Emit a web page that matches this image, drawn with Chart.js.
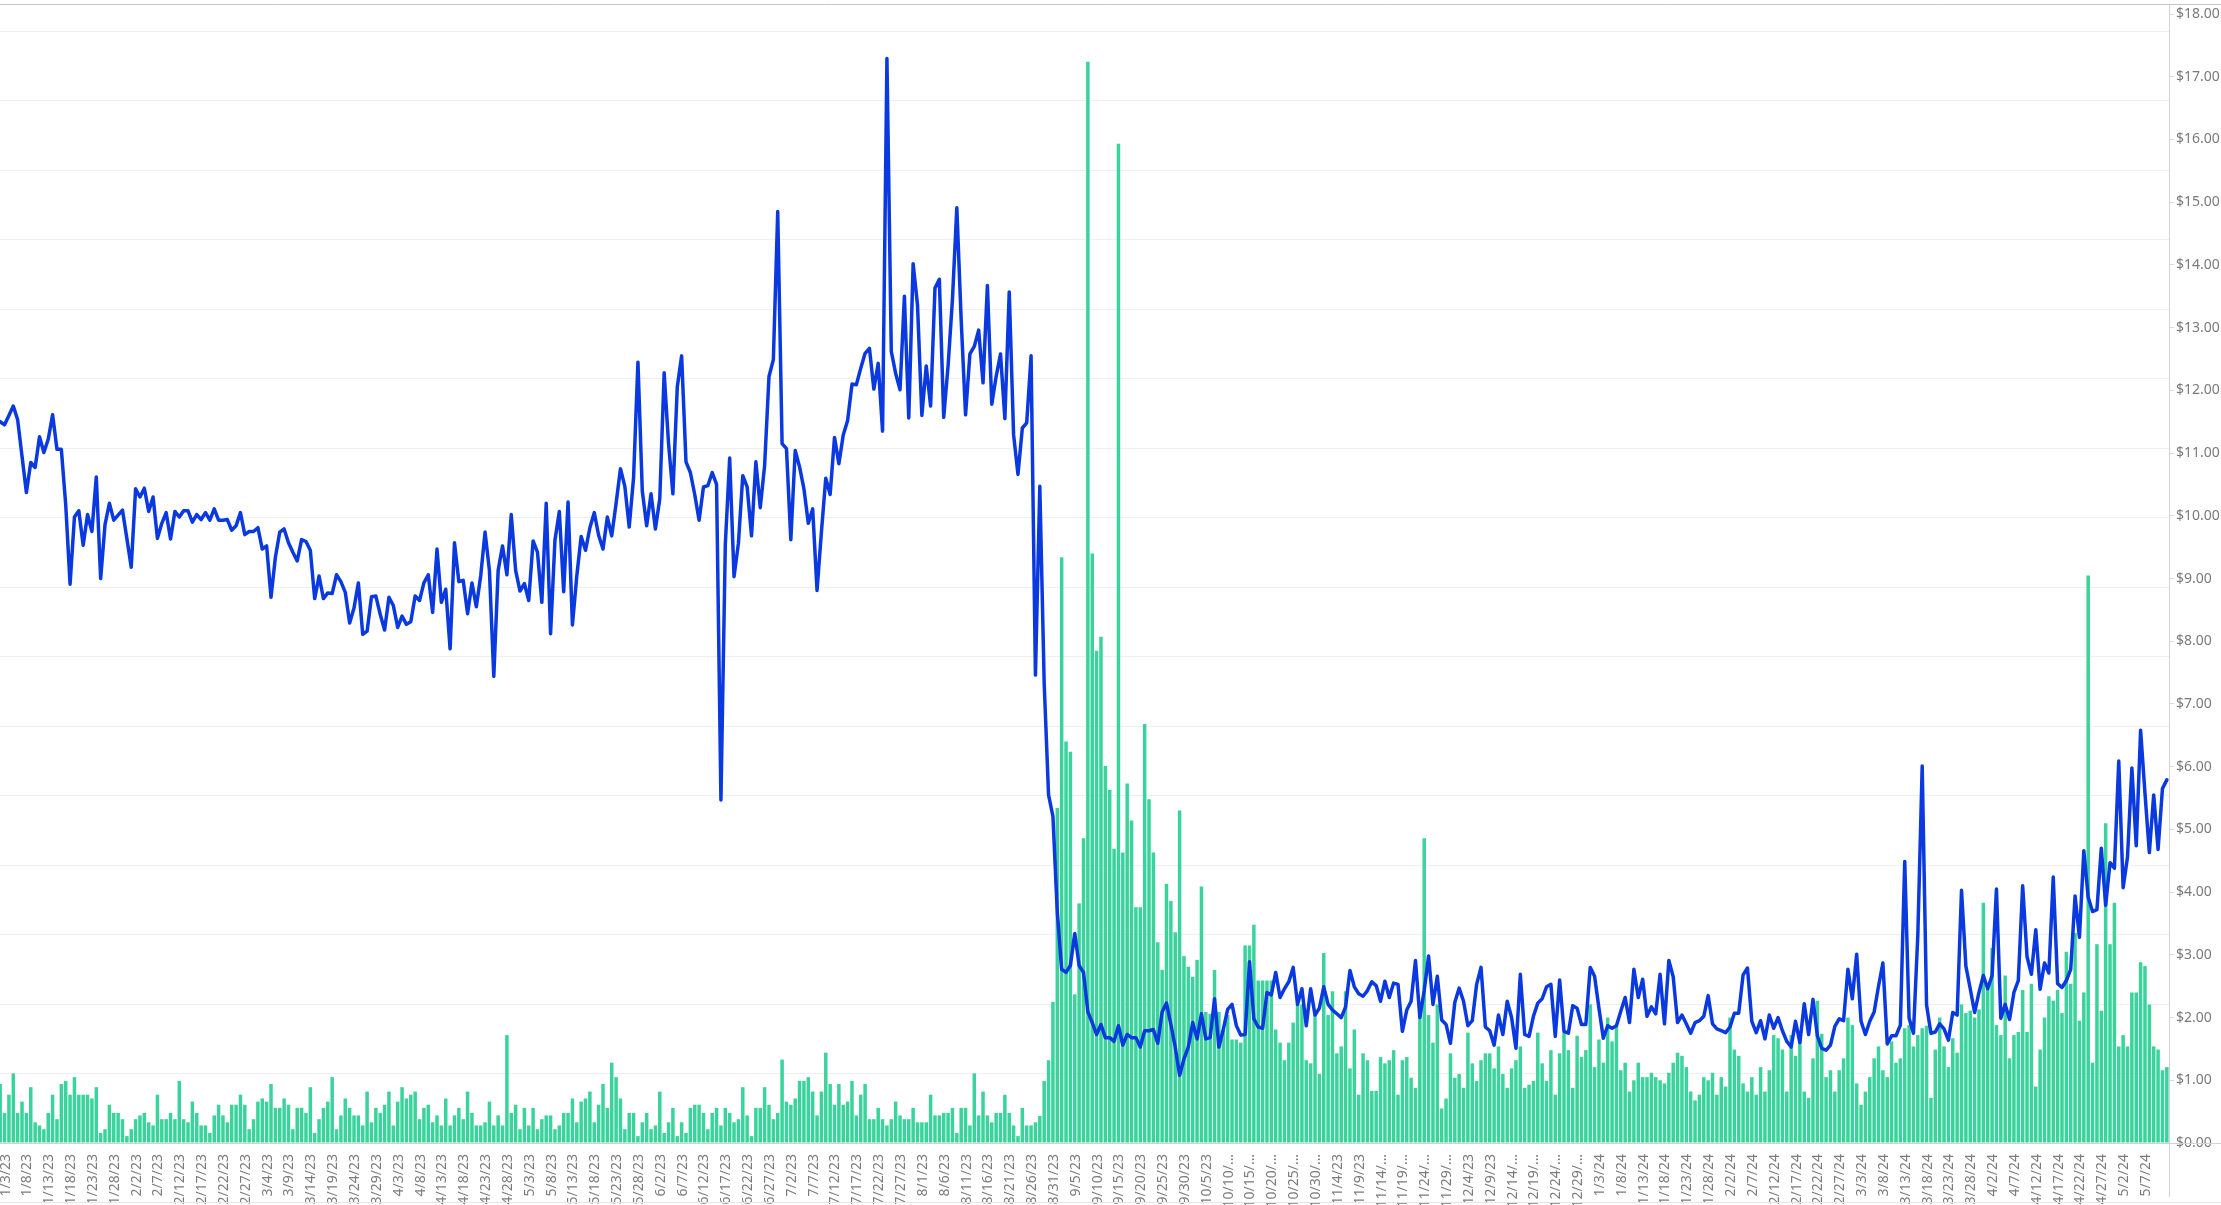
<!DOCTYPE html>
<html>
<head>
<meta charset="utf-8">
<script src="https://cdn.jsdelivr.net/npm/chart.js@4.4.1/dist/chart.umd.min.js"></script>
<style>
  html, body { margin: 0; padding: 0; background: #fff; overflow: hidden; }
  #wrap { position: relative; width: 2221px; height: 1205px; overflow: hidden; }
  #c { position: absolute; left: -2px; top: 0; }
</style>
</head>
<body>
<div id="wrap"><canvas id="c" width="2223" height="1205"></canvas></div>
<script>
// daily categories, 1/2/23 .. 5/12/24
const dayCount = 497;
const dayLabels = [];
for (let i = 0; i < dayCount; i++) {
  const d = new Date(2023, 0, 2 + i);
  dayLabels.push((d.getMonth() + 1) + '/' + d.getDate() + '/' + String(d.getFullYear()).slice(2));
}
const lastLabelIndex = 491; // 5/7/24 is the last date written on the axis

// right axis ticks ($)
const priceTicks = [0,1,2,3,4,5,6,7,8,9,10,11,12,13,14,15,16,17,18];

// blue line, one value per day
const price = [
  11.50,11.45,11.60,11.75,11.53,10.95,10.37,10.85,10.77,11.26,
  11.01,11.22,11.61,11.06,11.06,10.18,8.91,9.98,10.08,9.53,
  10.02,9.75,10.62,9.00,9.86,10.20,9.93,10.01,10.09,9.64,
  9.18,10.43,10.30,10.44,10.07,10.30,9.64,9.88,10.05,9.63,
  10.07,9.98,10.08,10.08,9.90,10.02,9.94,10.05,9.93,10.11,
  9.93,9.93,9.94,9.77,9.84,10.05,9.70,9.75,9.75,9.81,
  9.47,9.52,8.70,9.34,9.74,9.79,9.57,9.42,9.28,9.62,
  9.59,9.45,8.68,9.04,8.68,8.77,8.76,9.06,8.95,8.78,
  8.29,8.53,8.93,8.11,8.16,8.71,8.72,8.43,8.18,8.70,
  8.57,8.22,8.40,8.27,8.31,8.72,8.65,8.93,9.06,8.46,
  9.47,8.62,8.83,7.88,9.57,8.95,8.97,8.44,8.93,8.55,
  9.04,9.74,9.13,7.44,9.13,9.52,9.06,10.02,9.13,8.80,
  8.92,8.65,9.60,9.42,8.62,10.20,8.12,9.61,10.07,8.79,
  10.22,8.26,9.04,9.67,9.45,9.81,10.05,9.69,9.47,9.98,
  9.68,10.20,10.75,10.47,9.82,10.61,12.45,10.39,9.84,10.35,
  9.79,10.27,12.28,11.16,10.35,12.05,
  12.55,10.86,10.69,10.34,9.93,10.46,10.48,10.69,10.50,5.47,
  9.54,10.92,9.03,9.56,10.64,10.46,9.68,10.86,10.13,10.80,
  12.22,12.49,14.85,11.15,11.07,9.62,11.04,10.78,10.43,9.88,
  10.11,8.81,9.74,10.60,10.34,11.25,10.83,11.29,11.52,12.10,
  12.09,12.35,12.59,12.67,12.02,12.43,11.35,17.29,12.62,12.27,
  12.01,13.50,11.56,14.02,13.36,11.60,12.39,11.75,13.63,13.77,
  11.57,12.39,13.45,14.91,13.12,11.61,12.58,12.70,12.96,12.12,
  13.67,11.78,12.22,12.58,11.55,13.57,11.29,10.66,11.40,11.48,
  12.55,7.46,
  10.47,7.33,5.55,5.21,3.68,2.77,2.72,2.83,3.34,2.83,
  2.72,2.09,1.92,1.73,1.89,1.68,1.68,1.62,1.87,1.56,
  1.73,1.68,1.68,1.53,1.79,1.79,1.81,1.59,2.09,2.23,
  1.89,1.53,1.08,1.34,1.53,1.92,1.66,2.06,1.66,1.68,
  2.30,1.53,1.81,2.13,2.21,1.87,1.72,1.73,2.89,1.98,
  1.85,1.83,2.40,2.36,2.72,2.32,2.46,2.57,2.80,2.21,
  2.46,1.87,2.46,2.04,2.15,2.49,2.21,2.12,2.06,2.00,
  2.17,2.75,2.49,2.38,2.34,2.43,2.57,2.51,2.26,2.58,
  2.32,2.55,2.53,1.78,2.12,2.26,2.91,2.00,2.43,2.98,
  2.21,2.66,1.96,1.89,1.59,2.24,2.47,2.26,1.87,1.95,
  2.53,2.80,1.85,1.79,1.56,2.04,1.73,2.26,2.00,1.51,
  2.69,1.73,1.70,2.02,2.23,2.30,2.49,2.53,1.70,2.60,
  1.78,1.75,2.19,2.15,1.89,1.89,2.80,2.66,2.15,
  1.67,1.87,1.83,1.87,2.10,2.32,1.92,2.77,2.32,2.61,
  2.02,2.17,2.06,2.69,1.90,2.91,2.65,1.92,2.04,1.90,
  1.75,1.92,1.95,2.02,2.35,1.90,1.82,1.79,1.76,1.85,
  2.07,2.07,2.68,2.79,1.94,1.76,1.95,1.66,2.04,1.83,
  2.00,1.79,1.62,1.53,1.94,1.60,2.22,1.73,2.29,1.71,
  1.51,1.48,1.56,1.86,1.98,1.95,2.77,2.30,3.01,1.94,
  1.73,1.94,2.09,2.50,2.87,1.58,1.71,1.71,1.88,4.49,
  1.99,1.75,3.32,6.01,2.20,1.75,1.77,1.90,1.82,1.64,
  2.08,2.04,4.03,2.82,2.46,2.08,2.40,2.67,2.46,2.67,
  4.05,1.99,2.21,1.97,2.40,2.59,4.10,2.97,2.69,3.40,
  2.45,2.87,2.71,4.24,2.54,2.48,2.59,2.77,3.94,3.28,
  4.66,3.92,3.69,3.72,4.70,3.79,4.47,4.38,6.09,4.07,
  4.56,5.98,4.74,6.58,5.58,4.63,5.55,4.68,5.65,5.79
];

// green bars, one value per day
const bars = [
  0.94,0.48,0.77,1.11,0.48,0.66,0.48,0.89,0.33,0.28,
  0.22,0.48,0.77,0.38,0.94,0.99,0.77,1.05,0.77,0.77,
  0.77,0.71,0.89,0.16,0.22,0.61,0.48,0.48,0.38,0.11,
  0.22,0.38,0.44,0.48,0.33,0.28,0.77,0.38,0.38,0.48,
  0.38,0.99,0.38,0.33,0.66,0.48,0.28,0.28,0.16,0.44,
  0.61,0.44,0.33,0.61,0.61,0.77,0.61,0.22,0.38,0.66,
  0.71,0.66,0.94,0.56,0.56,0.71,0.61,0.22,0.56,0.56,
  0.48,0.89,0.16,0.38,0.56,0.66,1.05,0.22,0.44,0.71,
  0.56,0.44,0.44,0.28,0.82,0.33,0.56,0.48,0.61,0.82,
  0.28,0.66,0.89,0.71,0.77,0.82,0.38,0.56,0.61,0.33,
  0.44,0.28,0.71,0.28,0.44,0.56,0.38,0.82,0.48,0.28,
  0.28,0.33,0.66,0.28,0.44,0.28,1.72,0.48,0.61,0.22,
  0.56,0.28,0.56,0.22,0.38,0.44,0.44,0.22,0.28,0.48,
  0.48,0.71,0.33,0.66,0.71,0.82,0.33,0.61,0.94,0.56,
  1.28,1.05,0.71,0.22,0.48,0.48,0.11,0.33,0.48,0.22,
  0.28,0.82,0.16,0.33,0.56,0.11,0.33,0.16,0.56,0.61,
  0.61,0.48,0.22,0.48,0.56,0.28,0.56,0.48,0.33,0.38,
  0.89,0.44,0.11,0.56,0.56,0.89,0.61,0.38,0.48,1.33,
  0.66,0.61,0.71,0.99,0.99,1.05,0.82,0.44,0.82,1.44,
  0.94,0.61,0.94,0.61,0.66,0.99,0.44,0.77,0.94,0.38,
  0.38,0.56,0.38,0.28,0.38,0.66,0.44,0.38,0.38,0.56,
  0.33,0.33,0.33,0.77,0.44,0.44,0.48,0.48,0.56,0.16,
  0.56,0.56,0.28,1.11,0.44,0.82,0.44,0.33,0.48,0.48,
  0.77,0.48,0.28,0.11,0.56,0.28,0.28,0.33,0.43,0.99,
  1.32,2.25,5.34,9.34,6.40,6.24,2.37,3.82,4.86,17.24,
  9.40,7.85,8.07,6.01,5.63,4.69,15.93,4.63,5.73,5.14,
  3.76,3.76,6.68,5.48,4.63,3.20,2.76,4.13,3.86,3.36,
  5.30,2.98,2.81,2.65,2.92,4.09,2.09,2.06,2.76,2.09,
  1.81,2.04,1.65,1.65,1.60,3.15,3.15,3.48,2.59,2.59,
  2.59,2.59,1.81,1.60,1.32,1.60,1.92,2.21,2.21,1.32,
  1.27,2.04,1.10,3.03,2.04,2.42,1.43,1.54,2.42,1.19,
  1.81,0.77,1.43,1.32,0.83,0.83,1.37,1.27,1.32,1.48,
  0.77,1.32,1.37,1.04,0.88,2.04,4.86,2.04,1.60,2.21,
  0.55,0.71,1.43,1.04,1.10,0.88,1.76,1.27,0.99,1.32,
  1.43,1.43,1.19,1.54,1.10,0.88,1.19,1.32,1.54,0.88,
  0.93,0.99,1.76,1.27,0.99,1.48,0.77,1.43,1.76,1.48,
  0.88,1.71,1.37,1.48,2.21,1.21,1.65,
  1.28,2.00,1.62,1.87,1.16,1.28,0.82,1.00,1.28,1.05,
  1.05,1.12,1.05,1.00,0.95,1.12,1.28,1.44,1.39,1.21,
  0.82,0.68,0.77,1.05,1.00,1.12,0.77,1.05,0.90,2.00,
  1.49,1.39,0.95,0.82,1.05,0.77,1.21,0.82,1.16,1.72,
  1.67,1.49,0.82,1.72,1.39,1.67,0.82,0.72,1.35,2.27,
  1.74,1.05,1.16,0.82,1.16,1.35,2.00,1.88,0.95,0.61,
  0.82,1.05,1.35,1.54,1.16,1.05,1.62,1.28,1.35,1.83,
  1.88,1.54,1.72,1.83,1.87,0.72,1.49,2.00,1.54,1.21,
  1.67,1.44,2.21,2.07,2.11,2.00,2.13,3.83,2.46,3.11,
  1.88,1.72,2.67,1.35,1.72,1.77,2.44,1.77,2.54,0.90,
  1.49,2.00,2.34,2.27,2.44,2.07,3.05,2.54,3.35,1.95,
  2.40,9.05,1.28,3.17,2.11,5.10,3.17,3.83,1.54,1.72,
  1.54,2.40,2.40,2.88,2.82,2.21,1.54,1.49,1.16,1.21
];

const axisFont = { family: 'Noto Sans', size: 14 };

// outer frame lines like the original sheet
const framePlugin = {
  id: 'frame',
  afterDraw(chart) {
    const { ctx, chartArea: a, width, height } = chart;
    ctx.save();
    ctx.lineWidth = 1;
    ctx.strokeStyle = '#c6c6c6';
    ctx.beginPath(); ctx.moveTo(0, a.top + 0.5); ctx.lineTo(width, a.top + 0.5); ctx.stroke();
    ctx.strokeStyle = '#d2d2d2';
    ctx.beginPath(); ctx.moveTo(a.right + 0.5, a.bottom); ctx.lineTo(a.right + 0.5, height - 8); ctx.stroke();
    ctx.beginPath(); ctx.moveTo(a.right, a.bottom + 0.5); ctx.lineTo(width, a.bottom + 0.5); ctx.stroke();
    ctx.strokeStyle = '#e6e6e6';
    ctx.beginPath(); ctx.moveTo(0, height - 2.5); ctx.lineTo(width, height - 2.5); ctx.stroke();
    ctx.restore();
  }
};

new Chart(document.getElementById('c'), {
  type: 'bar',
  plugins: [framePlugin],
  data: {
    labels: dayLabels,
    datasets: [
      {
        type: 'line',
        data: price,
        yAxisID: 'y',
        borderColor: '#0a39df',
        borderWidth: 3.5,
        pointRadius: 0,
        tension: 0,
        borderJoinStyle: 'round',
        borderCapStyle: 'round',
        order: 0
      },
      {
        type: 'bar',
        data: bars,
        yAxisID: 'y',
        backgroundColor: '#3ad39b',
        categoryPercentage: 0.8,
        barPercentage: 1,
        order: 1
      }
    ]
  },
  options: {
    responsive: false,
    animation: false,
    layout: { padding: { top: 4, left: 0, right: 0, bottom: 0 } },
    plugins: { legend: { display: false }, tooltip: { enabled: false } },
    scales: {
      x: {
        offset: true,
        grid: { display: false },
        border: { display: true, color: '#d2d2d2' },
        ticks: {
          autoSkip: false,
          minRotation: 90,
          maxRotation: 90,
          padding: 3,
          labelOffset: 1,
          color: '#7c7c7c',
          font: axisFont,
          callback: (v, i) => {
            if ((i - 1) % 5 !== 0 || i > lastLabelIndex) return '';
            const s = dayLabels[i];
            return s.length > 7 ? s.slice(0, 6) + '\u2026' : s;
          }
        },
        afterFit: s => { s.height = 62; s.paddingLeft = 0; s.paddingRight = 0; }
      },
      g: {
        position: 'left',
        min: 0,
        max: 16.39,
        ticks: { display: false, stepSize: 1, includeBounds: false },
        grid: { color: '#efefef', drawTicks: false },
        border: { display: false },
        afterFit: s => { s.width = 0; s.paddingTop = 0; s.paddingBottom = 0; }
      },
      y: {
        position: 'right',
        min: 0,
        max: 18.16,
        afterBuildTicks: s => { s.ticks = priceTicks.map(v => ({ value: v })); },
        ticks: {
          color: '#7a7a7a',
          font: axisFont,
          padding: 2,
          callback: v => '$' + Number(v).toFixed(2)
        },
        grid: { drawOnChartArea: false, tickLength: 5, color: '#dcdcdc' },
        border: { display: true, color: '#d2d2d2' },
        afterFit: s => { s.width = 52; s.paddingTop = 0; s.paddingBottom = 0; }
      }
    }
  }
});
</script>
</body>
</html>
